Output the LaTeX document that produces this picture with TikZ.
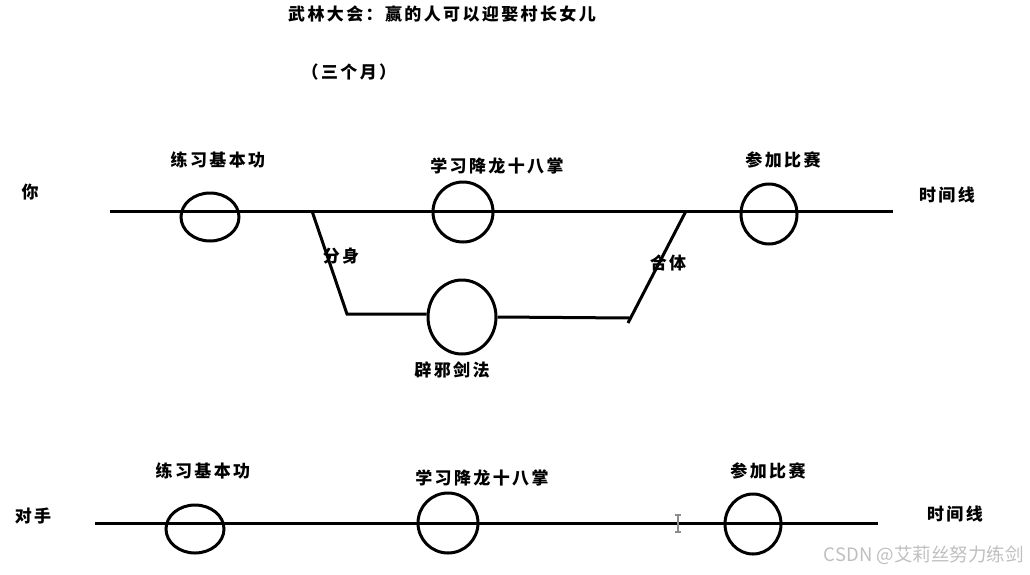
\documentclass[tikz,border=0pt]{standalone}
\usepackage{fontspec}
\setmainfont{Noto Sans CJK SC}
\newfontfamily\cjk[LetterSpace=14]{Noto Sans CJK SC}
\newfontfamily\wmfont{Noto Sans CJK SC}
\usetikzlibrary{shapes.geometric}
\begin{document}
\begin{tikzpicture}[x=1pt,y=-1pt,line width=3pt,
  lbl/.style={font=\cjk\bfseries\fontsize{17}{17}\selectfont,inner sep=0pt},
  stage/.style={draw,ellipse,inner sep=0pt,line width=3pt},
  tl/.style={line width=3pt},
  wm/.style={font=\wmfont\fontsize{18.5}{18.5}\selectfont,text=black!25,inner sep=0pt}]
\useasboundingbox (0,0) rectangle (1030,574);
\fill[white] (0,0) rectangle (1030,574);

% title
\node[lbl] (title) at (442,14) {武林大会：赢的人可以迎娶村长女儿};
\node[lbl] (months) at (349,72) {（三个月）};

% --- top timeline ---
\node[lbl] (you) at (30,192) {你};
\coordinate (tL) at (110,211);
\coordinate (tR) at (893,211);
\draw[tl] (tL) -- (tR);
\node[stage,minimum width=58pt,minimum height=48pt] (t1) at (210,217) {};
\node[stage,minimum width=60pt,minimum height=60pt] (t2) at (463,212) {};
\node[stage,minimum width=56pt,minimum height=60pt] (t3) at (769,214) {};
\node[lbl] (t1l) at (218,160) {练习基本功};
\node[lbl] (t2l) at (497,166) {学习降龙十八掌};
\node[lbl] (t3l) at (783,160) {参加比赛};
\node[lbl] (tline) at (947,195) {时间线};

% branch
\coordinate (bs) at (312,211);
\coordinate (b1) at (347,314);
\coordinate (b2) at (630,318);
\coordinate (b3) at (628,323);
\coordinate (be) at (686,211);
\node[stage,minimum width=68pt,minimum height=74pt] (pix) at (462,317) {};
\draw[tl] (bs) -- (b1) -- (pix.west |- b1);
\draw[tl] (pix.east) -- (b2);
\draw[tl] (b3) -- (be);
\node[lbl] (split) at (341,256) {分身};
\node[lbl] (merge) at (668,263) {合体};
\node[lbl] (pixl) at (452,370) {辟邪剑法};

% --- bottom timeline ---
\node[lbl] (rival) at (33,516) {对手};
\coordinate (bL) at (95,523);
\coordinate (bR) at (878,523);
\draw[tl] (bL) -- (bR);
\node[stage,minimum width=58pt,minimum height=48pt] (r1) at (195,529) {};
\node[stage,minimum width=60pt,minimum height=60pt] (r2) at (448,523) {};
\node[stage,minimum width=56pt,minimum height=60pt] (r3) at (753,524) {};
\node[lbl] (r1l) at (203,471) {练习基本功};
\node[lbl] (r2l) at (482,478) {学习降龙十八掌};
\node[lbl] (r3l) at (768,471) {参加比赛};
\node[lbl] (bline) at (955,514) {时间线};

% cursor
\coordinate (cT) at (678,515);
\coordinate (cB) at (678,532);
\draw[line width=1.6pt,black!45] (cT) -- (cB);
\draw[line width=1.4pt,black!45] ([xshift=-3pt]cT) -- ([xshift=3pt]cT);
\draw[line width=1.4pt,black!45] ([xshift=-3pt]cB) -- ([xshift=3pt]cB);

% watermark
\node[wm,anchor=east] (mark) at (1025,555) {CSDN @艾莉丝努力练剑};
\end{tikzpicture}
\end{document}
